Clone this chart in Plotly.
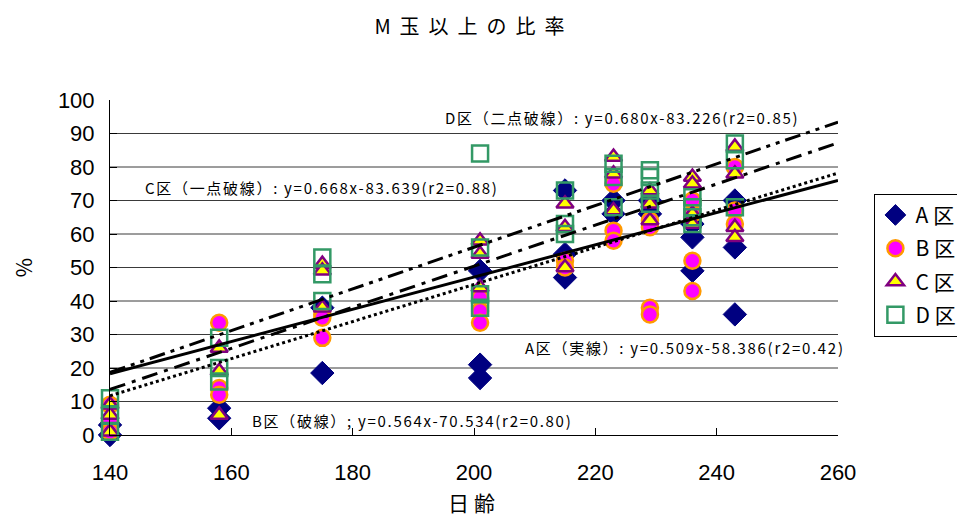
import plotly.graph_objects as go

# ---- data ----
a_x = [140, 140, 158, 158, 175, 175, 201, 201, 201, 215, 215, 215, 223, 223, 229, 229, 236, 236, 236, 243, 243, 243]
a_y = [0, 3, 8, 5, 18.5, 38, 49, 21, 17, 73, 54, 47, 70, 66, 70, 66, 63, 59, 49, 70, 56, 36]

b_x = [140, 140, 140, 158, 158, 158, 175, 175, 175, 201, 201, 201, 215, 215, 223, 223, 223,
       229, 229, 229, 229, 236, 236, 236, 236, 243, 243, 243]
b_y = [4, 9, 1, 33.5, 14, 12, 36, 35, 29, 41, 37, 33.5, 52, 50, 75, 61, 58,
       64, 62, 38, 36, 70, 66, 52, 43, 80, 67, 63]

c_x = [140, 140, 140, 158, 158, 158, 175, 175, 175, 201, 201, 201, 215, 215, 215, 223, 223, 223,
       229, 229, 229, 236, 236, 236, 236, 243, 243, 243, 243]
c_y = [9, 6, 1, 26, 19, 6, 51, 49, 38, 58, 54, 44, 69, 62, 50, 83, 78, 67,
       73, 69, 64, 77, 75, 66, 63, 86, 78, 62, 59]

d_x = [140, 140, 140, 158, 158, 158, 175, 175, 175, 201, 201, 201, 201, 215, 215, 215, 223, 223, 223,
       229, 229, 229, 229, 236, 236, 236, 236, 243, 243, 243]
d_y = [11, 6, 1, 29, 20, 16, 53, 48, 40, 84, 56, 42, 38, 73, 63, 60, 81, 77, 68,
       79, 77, 73, 69, 71, 68, 65, 63, 87, 82, 68]

# trend lines (end points)
trend_x = [140, 260]
trend_a = [18.3, 76.0]
trend_b = [11.7, 78.2]
trend_c = [13.6, 87.2]
trend_d = [18.7, 93.4]

series_names = ["A区", "B区", "C区", "D区"]
x_ticks = [140, 160, 180, 200, 220, 240, 260]
y_ticks = [0, 10, 20, 30, 40, 50, 60, 70, 80, 90, 100]
grid_vals = [10, 20, 30, 40, 50, 60, 70, 80, 90]

labels = [
    ("D区（二点破線）: y=0.680x-83.226(r2=0.85)", 194.9, 94.9),
    ("C区（一点破線）: y=0.668x-83.639(r2=0.88)", 145.4, 74.0),
    ("A区（実線）: y=0.509x-58.386(r2=0.42)", 208.1, 26.0),
    ("B区（破線）; y=0.564x-70.534(r2=0.80)", 163.1, 4.2),
]

FONT = "Noto Sans CJK JP, Liberation Sans, sans-serif"


def spaced(t, px):
    return '<span style="letter-spacing:%spx">%s</span>' % (px, t)


fig = go.Figure()

fig.add_trace(go.Scatter(x=a_x, y=a_y, mode="markers", name=spaced(series_names[0], 5), legendgroup="a",
                         cliponaxis=False,
                         marker=dict(symbol="diamond", size=18, color="#000080",
                                     line=dict(color="#000080", width=1))))
fig.add_trace(go.Scatter(x=b_x, y=b_y, mode="markers", name=spaced(series_names[1], 5), legendgroup="b",
                         cliponaxis=False,
                         marker=dict(symbol="circle", size=16, color="#FF00FF",
                                     line=dict(color="#FF9900", width=2.5))))
fig.add_trace(go.Scatter(x=c_x, y=c_y, mode="markers", name=spaced(series_names[2], 5), legendgroup="c",
                         cliponaxis=False,
                         marker=dict(symbol="triangle-up", size=15, color="#FFFF00",
                                     line=dict(color="#800080", width=2.5))))
fig.add_trace(go.Scatter(x=d_x, y=d_y, mode="markers", name=spaced(series_names[3], 5), legendgroup="d",
                         cliponaxis=False,
                         marker=dict(symbol="square-open", size=16, color="#339966",
                                     line=dict(color="#339966", width=2.5))))

line_style = [
    (trend_a, "solid"),
    (trend_b, "3px,3px"),
    (trend_c, "16px,7px,4px,7px"),
    (trend_d, "16px,6px,4px,6px,4px,6px"),
]
for ys, dash in line_style:
    fig.add_trace(go.Scatter(x=trend_x, y=ys, mode="lines", showlegend=False, hoverinfo="skip",
                             line=dict(color="black", width=3, dash=dash)))

shapes = [dict(type="line", xref="paper", x0=0, x1=1, yref="y", y0=g, y1=g,
               line=dict(color="#3a3a3a", width=1), layer="below") for g in grid_vals]

annotations = [dict(text=spaced(t, 1.7), x=x, y=y, xref="x", yref="y", xanchor="left", yanchor="middle",
                    showarrow=False, font=dict(family=FONT, size=15, color="black"))
               for t, x, y in labels]

fig.update_layout(
    width=965, height=517,
    margin=dict(l=102, r=135, t=92, b=90, autoexpand=False),
    paper_bgcolor="white", plot_bgcolor="white",
    font=dict(family=FONT, color="black"),
    title=dict(text=spaced("M玉以上の比率", 9), x=0.5, xref="paper", xanchor="center",
               y=0.963, yref="container", yanchor="middle",
               font=dict(family=FONT, size=20, color="black")),
    showlegend=True,
    legend=dict(x=1.05, y=0.72, xanchor="left", yanchor="top",
                bordercolor="black", borderwidth=1, bgcolor="white",
                font=dict(family=FONT, size=21, color="black"),
                tracegroupgap=3),
    shapes=shapes,
    annotations=annotations,
)

fig.update_xaxes(range=[140, 260], tickvals=x_ticks, ticks="inside", ticklen=7,
                 tickcolor="black", showline=True, linecolor="black", linewidth=1,
                 showgrid=False, zeroline=False, ticklabelstandoff=18, automargin=False,
                 tickfont=dict(family="Liberation Sans, sans-serif", size=22),
                 title=dict(text=spaced("日齢", 5), standoff=11, font=dict(family=FONT, size=21)))
fig.update_yaxes(range=[0, 100], tickvals=y_ticks, ticks="inside", ticklen=7,
                 tickcolor="black", showline=True, linecolor="black", linewidth=1,
                 showgrid=False, zeroline=False, ticklabelstandoff=10, automargin=False,
                 tickfont=dict(family="Liberation Sans, sans-serif", size=22),
                 title=dict(text="%", standoff=29, font=dict(family=FONT, size=21)))

fig.write_html("out.html")
